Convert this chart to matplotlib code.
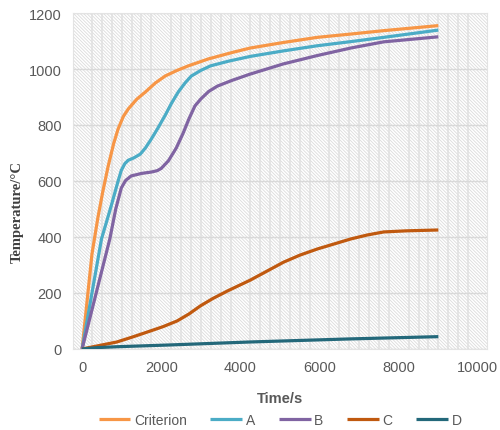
import matplotlib
matplotlib.use("Agg")
import matplotlib.pyplot as plt
from matplotlib.patches import Rectangle
from matplotlib.ticker import MultipleLocator

# time (s) and temperature (C)
t_crit = [0, 250, 400, 520, 660, 800, 910, 1040, 1165, 1380, 1600, 1850, 2100, 2400, 2680, 3190, 3820, 4250, 5100, 5940, 6800, 7620, 9000]
T_crit = [0, 340, 470, 560, 654, 735, 786, 830, 857, 892, 918, 950, 975, 995, 1011, 1036, 1060, 1075, 1095, 1113, 1125, 1137, 1155]

t_a = [0, 490, 735, 900, 990, 1080, 1165, 1300, 1470, 1600, 1740, 1920, 2100, 2260, 2430, 2600, 2760, 3000, 3240, 3700, 4250, 5100, 5940, 6800, 7620, 9000]
T_a = [0, 393, 511, 595, 638, 662, 674, 682, 696, 718, 748, 790, 835, 878, 918, 950, 975, 995, 1011, 1028, 1045, 1065, 1083, 1098, 1113, 1139]

t_b = [0, 700, 850, 990, 1100, 1240, 1500, 1750, 1900, 2000, 2180, 2380, 2550, 2700, 2850, 3000, 3200, 3420, 3800, 4250, 5080, 5940, 6790, 7620, 9000]
T_b = [0, 393, 500, 575, 602, 618, 627, 632, 637, 645, 672, 718, 770, 822, 868, 893, 920, 939, 960, 982, 1018, 1048, 1075, 1097, 1115]

t_c = [0, 880, 1300, 1720, 2050, 2400, 2700, 2990, 3300, 3670, 4250, 5090, 5500, 5940, 6790, 7200, 7620, 8200, 9000]
T_c = [0, 25, 44, 64, 80, 100, 125, 154, 180, 207, 246, 310, 335, 357, 393, 407, 418, 422, 425]

t_d = [0, 400, 880, 2150, 4250, 6790, 9000]
T_d = [0, 5, 8, 14, 25, 36, 44]

series = [
    ("Criterion", t_crit, T_crit, "#F79646"),
    ("A", t_a, T_a, "#4BACC6"),
    ("B", t_b, T_b, "#8064A2"),
    ("C", t_c, T_c, "#C0590F"),
    ("D", t_d, T_d, "#23687A"),
]

plt.rcParams["hatch.linewidth"] = 0.6
plt.rcParams["font.family"] = "Liberation Sans"

fig = plt.figure(figsize=(5.0, 4.31), dpi=100)
ax = fig.add_axes([0.146, 0.188, 0.828, 0.7795])

# hatched plot area like the excel chart
ax.add_patch(Rectangle((0, 0), 1, 1, transform=ax.transAxes, facecolor="white",
                       edgecolor="#dcdcdc", hatch="\\" * 10, lw=0, zorder=0))

for name, t, T, col in series:
    ax.plot(t, T, color=col, lw=2.3, label=name, zorder=3,
            solid_capstyle="butt", solid_joinstyle="round")

ax.set_xlim(-230, 10230)
ax.set_ylim(0, 1200)
ax.xaxis.set_major_locator(MultipleLocator(2000))
ax.xaxis.set_minor_locator(MultipleLocator(250))
ax.yaxis.set_major_locator(MultipleLocator(200))
ax.grid(True, which="major", axis="y", color="#d9d9d9", lw=1, zorder=1)
ax.grid(True, which="minor", axis="x", color="#e0e0e0", lw=1.1, zorder=1)
ax.set_axisbelow(True)

for s in ax.spines.values():
    s.set_color("#e3e3e3")
ax.tick_params(which="both", length=0, colors="#595959", labelsize=10.5, pad=8)

ax.set_xlabel("Time/s", fontsize=10.5, fontweight="bold", color="#595959", labelpad=12)
ax.set_ylabel("Temperature/°C", fontsize=10.5, fontweight="bold", color="#404040",
              family="Liberation Serif")
ax.yaxis.set_label_coords(-0.118, 0.41)

ax.legend(loc="center", bbox_to_anchor=(0.5, -0.212), ncol=5, frameon=False,
          handlelength=2.3, columnspacing=1.7, handletextpad=0.25, borderpad=0,
          fontsize=10, labelcolor="#595959")

plt.savefig("out.png", dpi=100)
plt.close()
